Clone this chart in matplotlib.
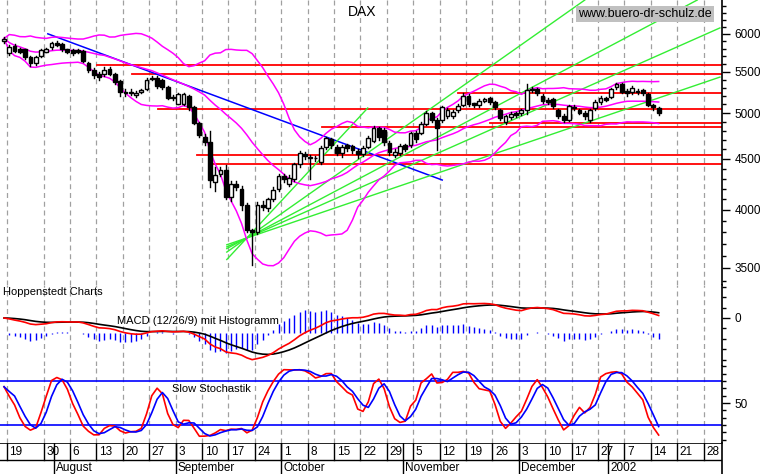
import numpy as np
import pandas as pd
import matplotlib
matplotlib.use("Agg")
import matplotlib.pyplot as plt
from matplotlib.ticker import FixedLocator, NullFormatter

plt.rcParams["font.family"] = "Liberation Sans"

# ---------------- data ----------------
opens = [5895,5735,5835,5790,5790,5685,5605,5700,5760,5815,
         5870,5860,5790,5780,5780,5770,5605,5525,5475,5465,
         5535,5465,5385,5240,5235,5210,5245,5280,5420,5425,
         5395,5310,5190,5110,5110,5200,5065,4885,4735,4680,
         4265,4340,4390,4120,4245,4200,4045,3815,3800,4045,
         4015,4100,4200,4320,4245,4300,4445,4550,4505,4510,
         4470,4625,4705,4620,4560,4640,4635,4585,4545,4625,
         4690,4825,
         4810,4665,4540,4565,4645,4640,4780,4775,4875,4995,
         4925,4925,4965,4960,5030,5095,5200,5115,5090,5145,
         5170,5130,5035,4900,4950,4995,5000,5030,5290,5290,
         5205,5150,5160,5035,4965,4925,5075,5035,5005,4920,
         5055,5130,5170,5185,5310,5345,5260,5250,5260,5270,
         5220,5095,5055]
closes = [5935,5825,5770,5760,5690,5605,5685,5780,5790,5870,
          5850,5790,5760,5745,5760,5640,5520,5455,5430,5525,
          5475,5375,5250,5235,5240,5240,5270,5395,5410,5320,
          5310,5180,5170,5220,5220,5065,4890,4755,4680,4285,
          4335,4390,4120,4250,4220,4045,3820,3800,4045,4030,
          4100,4190,4320,4295,4305,4445,4555,4525,4520,4505,
          4610,4715,4640,4565,4625,4610,4590,4550,4610,4715,
          4825,4735,
          4680,4575,4575,4635,4600,4770,4705,4880,4995,4920,
          4835,5065,5040,5015,5085,5200,5105,5095,5140,5160,
          5130,5075,4940,4960,4990,4980,5030,5270,5270,5230,
          5145,5130,5080,4965,4925,5080,5055,5005,4960,5035,
          5130,5180,5155,5290,5340,5250,5240,5300,5250,5240,
          5095,5065,5000]
highs = [5960,5850,5860,5810,5800,5700,5700,5800,5810,5890,
         5900,5880,5800,5800,5800,5780,5620,5540,5490,5560,
         5560,5480,5400,5280,5280,5260,5290,5420,5440,5440,
         5410,5320,5210,5240,5240,5210,5080,4900,4760,4800,
         4420,4420,4440,4280,4280,4230,4060,3830,4070,4080,
         4110,4220,4340,4340,4330,4460,4580,4570,4540,4530,
         4630,4730,4720,4640,4650,4660,4650,4600,4630,4740,
         4850,4840,
         4830,4690,4600,4660,4660,4790,4800,4900,5020,5010,
         4940,5080,5060,5040,5100,5230,5220,5120,5160,5180,
         5190,5140,5050,4980,5010,5010,5050,5340,5310,5300,
         5220,5170,5170,5050,4990,5090,5090,5050,5020,5050,
         5150,5200,5190,5300,5360,5360,5280,5320,5290,5280,
         5230,5110,5070]
lows = [5870,5710,5750,5740,5660,5570,5590,5690,5750,5800,
        5830,5770,5740,5720,5740,5620,5500,5420,5400,5450,
        5460,5350,5200,5200,5210,5190,5230,5270,5390,5300,
        5280,5160,5150,5100,5090,5040,4870,4730,4640,4220,
        4180,4320,4100,4080,4190,4000,3800,3520,3780,4000,
        3990,4080,4180,4270,4230,4280,4420,4500,4300,4480,
        4450,4600,4610,4540,4520,4580,4560,4510,4530,4610,
        4680,4700,
        4650,4540,4520,4540,4580,4620,4680,4760,4860,4900,
        4590,4900,4940,4940,5010,5080,5080,5070,5070,5130,
        5110,5050,4920,4880,4930,4950,4980,4990,5250,5210,
        5120,5110,5060,4940,4900,4910,5030,4990,4930,4900,
        5030,5110,5140,5170,5280,5230,5200,5220,5220,5210,
        5080,5040,4980]

week_labels = ["19","30","6","13","20","27","3","10","17","24","1","8","15",
               "22","29","5","12","19","26","3","10","17","27","7","14","21","28"]
week_pos = [0.5, 7.5] + [12.5 + 5 * k for k in range(25)]
month_labels = ["August", "September", "October", "November", "December", "2002"]
month_pos = [9.5, 32.5, 52.5, 75.5, 97.5, 114.5]

resist_levels = [5585, 5470, 5233, 5043, 4885, 4838, 4537, 4446]
resist_start = [17.6, 24.2, 86.0, 29.2, 92.0, 60.2, 36.6, 39.4]

trend_x = [8.3, 83.0]
trend_p = [6000, 4285]

fan_origin_x, fan_origin_p = 46.0, 3750
fan_end_x = [68.9, 110.0, 131.3, 135.6, 135.6]
fan_end_p = [5058, 6485, 6485, 6082, 5431]
fan_start_x = 42.2

# ---------------- indicators ----------------
c = pd.Series(closes, dtype=float)
hi = pd.Series(highs, dtype=float)
lo = pd.Series(lows, dtype=float)
x = np.arange(len(closes))

mid = c.rolling(20, min_periods=1).mean()
sd = c.rolling(20, min_periods=1).std(ddof=0)
upper, lower = mid + 2 * sd, mid - 2 * sd

ema12 = c.ewm(span=12, adjust=False).mean()
ema26 = c.ewm(span=26, adjust=False).mean()
macd = ema12 - ema26
signal = macd.ewm(span=9, adjust=False).mean()
hist = macd - signal

ll = lo.rolling(7, min_periods=1).min()
hh = hi.rolling(7, min_periods=1).max()
fastk = 100 * (c - ll) / (hh - ll)
slowk = fastk.rolling(3, min_periods=1).mean()
slowd = slowk.rolling(3, min_periods=1).mean()

# ---------------- figure ----------------
W, H = 767, 474
fig = plt.figure(figsize=(W / 100, H / 100), dpi=100)
R = 722 / W
XL = (-0.76, 136.0)

def fy(top, bot):
    return [0, 1 - bot / H, R, (bot - top) / H]

axp = fig.add_axes(fy(0, 285))
axm = fig.add_axes(fy(285, 366))
axs = fig.add_axes(fy(366, 443))
axx = fig.add_axes(fy(443, 474))

GREEN = "#33ee33"
for ax in (axp, axm, axs, axx):
    ax.set_xlim(*XL)
    for s in ("top", "left", "bottom"):
        ax.spines[s].set_visible(False)
    ax.spines["right"].set_linewidth(1.2)
    ax.set_xticks([])
    ax.yaxis.tick_right()
    ax.tick_params(axis="y", which="major", length=6, width=1, labelsize=8.5, pad=3)
    ax.tick_params(axis="y", which="minor", length=3, width=1)
for ax in (axp, axm, axs):
    for wp in week_pos:
        ax.axvline(wp, color="#a0a0a0", lw=0.9, ls=(0, (4, 3)), zorder=0)

# price panel
axp.set_yscale("log")
axp.set_ylim(3365, 6486)
axp.yaxis.set_major_locator(FixedLocator([3500, 4000, 4500, 5000, 5500, 6000]))
axp.yaxis.set_major_formatter(matplotlib.ticker.FuncFormatter(lambda v, p: f"{v:.0f}"))
axp.yaxis.set_minor_locator(FixedLocator([v for v in range(3400, 6500, 100) if v % 500]))
axp.yaxis.set_minor_formatter(NullFormatter())

for lvl, st in zip(resist_levels, resist_start):
    axp.plot([st, XL[1]], [lvl, lvl], color="#ff0000", lw=1.3, zorder=2)
axp.plot(trend_x, trend_p, color="#0000ff", lw=1.1, zorder=2)
for ex, ep in zip(fan_end_x, fan_end_p):
    slope = (np.log(ep) - np.log(fan_origin_p)) / (ex - fan_origin_x)
    sp = np.exp(np.log(fan_origin_p) + slope * (fan_start_x - fan_origin_x))
    axp.plot([fan_start_x, ex], [sp, ep], color=GREEN, lw=1.0, zorder=2)
for s in (upper, mid, lower):
    axp.plot(x, s, color="#ff00ff", lw=1.1, zorder=3)

bw = 0.72
for i in x:
    o, cl, h, l = opens[i], closes[i], highs[i], lows[i]
    axp.plot([i, i], [l, h], color="black", lw=1.0, zorder=4)
    b0, b1 = min(o, cl), max(o, cl)
    if b1 - b0 < 8:
        b1 = b0 + 8
    face = "white" if cl > o else "black"
    axp.add_patch(plt.Rectangle((i - bw / 2, b0), bw, b1 - b0, facecolor=face,
                                edgecolor="black", lw=1.0, zorder=5))

fig.text(362 / W, 1 - 12 / H, "DAX", fontsize=10, ha="center", va="center")
fig.text(645 / W, 1 - 14 / H, "www.buero-dr-schulz.de", fontsize=9, ha="center", va="center",
         bbox=dict(facecolor="#c0c0c0", edgecolor="none", pad=1.5))

# MACD panel
axm.set_ylim(-460, 316)
axm.yaxis.set_major_locator(FixedLocator([0]))
axm.yaxis.set_minor_locator(FixedLocator([-400, -300, -200, -100, 100, 200, 300]))
base = -144
axm.vlines(x, base, base + 2.2 * hist, color="#0000ff", lw=1.0)
axm.plot(x, signal, color="black", lw=1.2)
axm.plot(x, macd, color="#ff0000", lw=1.2)
fig.text(3 / W, 1 - 292 / H, "Hoppenstedt Charts", fontsize=8, ha="left", va="center")
fig.text(117 / W, 1 - 321 / H, "MACD (12/26/9) mit Histogramm", fontsize=8, ha="left", va="center")

# Stochastic panel
axs.set_ylim(-4.5, 100.5)
axs.yaxis.set_major_locator(FixedLocator([50]))
axs.yaxis.set_minor_locator(FixedLocator([0, 10, 20, 30, 40, 60, 70, 80, 90, 100]))
axs.axhline(80, color="#0000ff", lw=1.2)
axs.axhline(20, color="#0000ff", lw=1.2)
axs.plot(x, slowk, color="#ff0000", lw=1.2)
axs.plot(x, slowd, color="#0000ff", lw=1.2)
fig.text(172 / W, 1 - 389 / H, "Slow Stochastik", fontsize=8, ha="left", va="center")

# x label band
axx.set_ylim(0, 1)
axx.set_yticks([])
axx.axhline(1, color="black", lw=1.2)
axx.axhline(0.45, color="black", lw=1.0)
for wp, lab in zip(week_pos, week_labels):
    axx.plot([wp, wp], [0.45, 1], color="black", lw=1.0)
    axx.text(wp + 0.5, 0.72, lab, fontsize=8.5, ha="left", va="center")
for mp, lab in zip(month_pos, month_labels):
    axx.plot([mp, mp], [0, 1], color="black", lw=1.0)
    axx.text(mp + 0.4, 0.2, lab, fontsize=8.5, ha="left", va="center")

fig.savefig("out.png", dpi=100, facecolor="white")
